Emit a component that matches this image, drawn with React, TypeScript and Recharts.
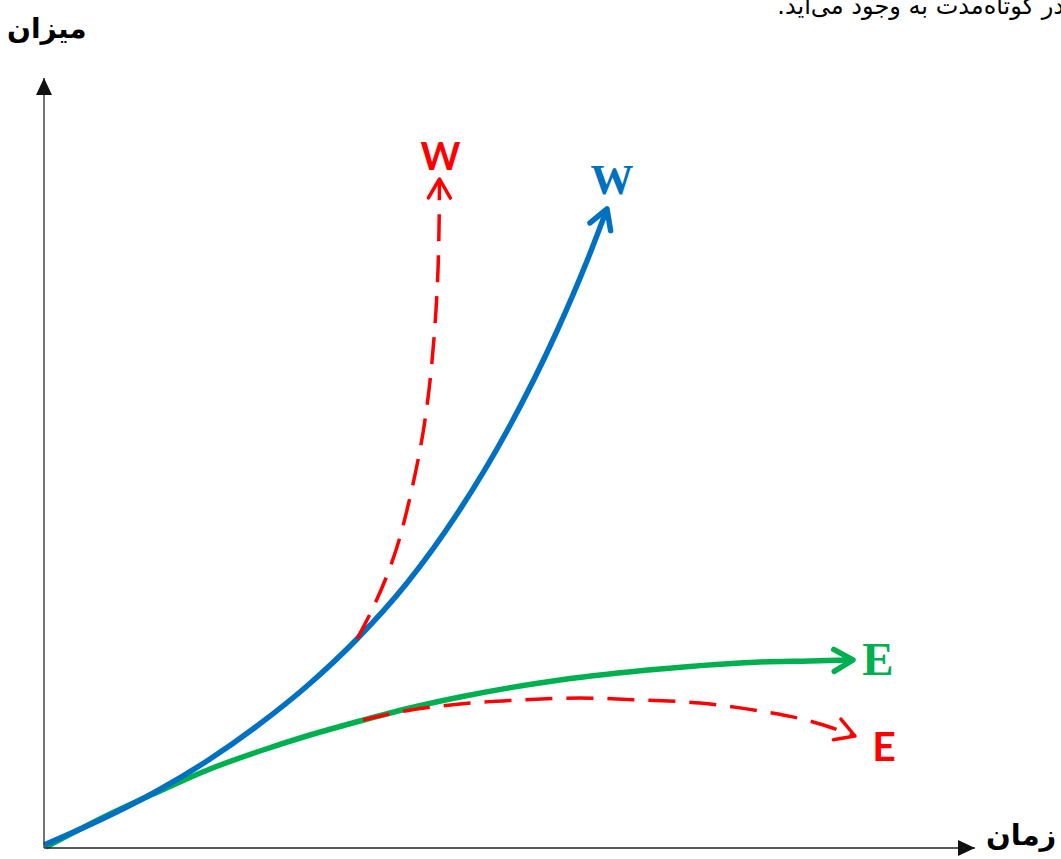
import React from 'react';
import { LineChart, Line, XAxis, YAxis, ReferenceDot } from 'recharts';

// values: time (x) and level (y), arbitrary units
const blueWTime = [0, 5.6, 11.3, 16.3, 21.3, 26.3, 31.3, 36.3, 41.3, 46.3, 51.3, 54.3, 56.3];
const blueWLevel = [0.3, 2.8, 5.7, 8.7, 12.2, 16.2, 20.9, 26.5, 33.4, 41.7, 51.7, 58.7, 63.9];

const greenETime = [0.2, 6.6, 11.6, 16.6, 21.6, 26.6, 31.6, 36.6, 41.6, 51.6, 61.6, 71.6, 76.6, 80.9];
const greenELevel = [0.1, 3.4, 5.7, 7.9, 9.7, 11.3, 12.7, 14.0, 15.1, 16.8, 17.9, 18.6, 18.7, 18.8];

const redWTime = [31.3, 32.8, 34.2, 35.3, 36.3, 37.2, 37.9, 38.5, 38.9, 39.2, 39.4, 39.5, 39.55];
const redWLevel = [20.9, 23.8, 27.0, 30.1, 33.8, 37.8, 41.5, 45.8, 49.8, 53.8, 57.8, 61.8, 66.9];

const redETime = [31.9, 36.1, 41.6, 47.6, 53.6, 59.6, 65.6, 71.6, 76.6, 81.1];
const redELevel = [12.8, 13.7, 14.4, 14.8, 15.0, 14.8, 14.5, 13.7, 12.7, 11.2];

const xLabel = 'زمان';
const yLabel = 'میزان';
const noteText = 'در کوتاه‌مدت به وجود می‌اید.';

const zip = (xs: number[], ys: number[]) => xs.map((x, i) => ({ x, y: ys[i] }));

const BLUE = '#0070C0';
const GREEN = '#00B050';
const RED = '#FF0000';

const series = [
  { key: 'greenE', data: zip(greenETime, greenELevel), color: GREEN, width: 5.5, dash: undefined, curve: 'monotoneX',
    label: 'E', font: '"Liberation Serif", serif', size: 47, dx: 25, dy: 15 },
  { key: 'blueW', data: zip(blueWTime, blueWLevel), color: BLUE, width: 5.5, dash: undefined, curve: 'monotoneX',
    label: 'W', font: '"Liberation Serif", serif', size: 43, dx: 5, dy: -15 },
  { key: 'redE', data: zip(redETime, redELevel), color: RED, width: 3.5, dash: '27 14', curve: 'monotoneX',
    label: 'E', font: 'Lato, sans-serif', size: 41, dx: 29, dy: 25 },
  { key: 'redW', data: zip(redWTime, redWLevel), color: RED, width: 3.5, dash: '27 14', curve: 'monotoneY',
    label: 'W', font: 'Lato, sans-serif', size: 38, dx: 1, dy: -9 },
];

const Markers = () => (
  <svg width={0} height={0} style={{ position: 'absolute' }}>
    <defs>
      <marker id="axisHead" markerUnits="userSpaceOnUse" markerWidth={24} markerHeight={24}
        viewBox="-20 -12 24 24" refX={0} refY={0} orient="auto-start-reverse" overflow="visible">
        <path d="M-17,-8 L0,0 L-17,8 Z" fill="#111" />
      </marker>
      {series.map((s) => (
        <marker key={s.key} id={`head-${s.key}`} markerUnits="userSpaceOnUse" markerWidth={40} markerHeight={40}
          viewBox="-30 -20 40 40" refX={0} refY={0} orient="auto" overflow="visible">
          <path d="M-19,-11 L0,0 L-19,11" fill="none" stroke={s.color} strokeWidth={s.width}
            strokeLinecap="round" strokeLinejoin="round" />
        </marker>
      ))}
    </defs>
  </svg>
);

export default function App() {
  return (
    <div style={{ position: 'absolute', left: 0, top: 0, width: 1061, height: 859, overflow: 'hidden', background: '#fff' }}>
      <Markers />
      <div style={{ position: 'absolute', right: -3, top: -8, fontFamily: '"DejaVu Sans", sans-serif', fontSize: 24,
        direction: 'rtl', whiteSpace: 'nowrap', color: '#000' }}>{noteText}</div>
      <div style={{ position: 'absolute', left: 7, top: 12, fontFamily: '"DejaVu Sans", sans-serif', fontSize: 28,
        fontWeight: 'bold', direction: 'rtl', color: '#000' }}>{yLabel}</div>
      <div style={{ position: 'absolute', left: 986, top: 818, fontFamily: '"DejaVu Sans", sans-serif', fontSize: 29,
        fontWeight: 'bold', direction: 'rtl', whiteSpace: 'nowrap', color: '#000' }}>{xLabel}</div>
      <div style={{ position: 'absolute', left: 0, top: 0 }}>
        <LineChart width={1061} height={859} margin={{ top: 78, right: 86, bottom: 10, left: 43 }}>
          <XAxis type="number" dataKey="x" domain={[0, 93.1]} height={1} tick={false} tickLine={false}
            axisLine={{ stroke: '#222', strokeWidth: 1.5, markerEnd: 'url(#axisHead)' }} />
          <YAxis type="number" dataKey="y" domain={[0, 77]} width={1} tick={false} tickLine={false}
            axisLine={{ stroke: '#444', strokeWidth: 1.5, markerStart: 'url(#axisHead)' }} />
          {series.map((s) => (
            <Line key={s.key} data={s.data} dataKey="y" type={s.curve as any} stroke={s.color}
              strokeWidth={s.width} strokeDasharray={s.dash} dot={false} activeDot={false}
              markerEnd={`url(#head-${s.key})`} isAnimationActive={false} />
          ))}
          {series.map((s) => {
            const last = s.data[s.data.length - 1];
            return (
              <ReferenceDot key={`lbl-${s.key}`} x={last.x} y={last.y} r={0}
                shape={(p: any) => (
                  <text x={p.cx + s.dx} y={p.cy + s.dy} textAnchor="middle" fill={s.color}
                    fontFamily={s.font} fontWeight="bold" fontSize={s.size}>{s.label}</text>
                )} />
            );
          })}
        </LineChart>
      </div>
    </div>
  );
}
